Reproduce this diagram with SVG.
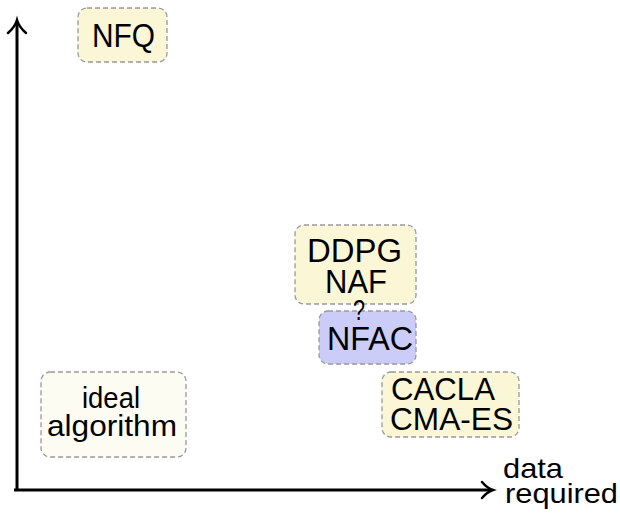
<svg xmlns="http://www.w3.org/2000/svg" width="620" height="516" viewBox="0 0 620 516">
<style>
.box{stroke:#999;stroke-width:1.3;stroke-dasharray:5,3}
.y{fill:#fbf7d6}
.b{fill:#ccccf9}
.w{fill:#fdfcf2}
text{font-family:"Liberation Sans",Arial,sans-serif;font-size:34px;fill:#000}
.ax{stroke:#000;stroke-width:3;fill:none}
.ah{stroke:#000;stroke-width:2.5;fill:none;stroke-linecap:round}
</style>
<g id="connectors">
<path class="ax" d="M17,490 V22"/>
<path class="ah" d="M8,33 Q15,27 17,20 Q19,27 26,33"/>
<path class="ax" d="M14,490 H490"/>
<path class="ah" d="M482,482 Q487,488 493,490 Q487,492 482,498"/>
</g>
<g id="nfq">
<rect class="box y" x="78" y="8" width="89" height="54" rx="9"/>
<text x="92" y="47" textLength="63" lengthAdjust="spacingAndGlyphs">NFQ</text>
</g>
<g id="ddpg">
<rect class="box y" x="295" y="225" width="121" height="79" rx="9"/>
<text x="307" y="262" textLength="95" lengthAdjust="spacingAndGlyphs">DDPG</text>
<text x="325" y="293" textLength="62" lengthAdjust="spacingAndGlyphs">NAF</text>
</g>
<g id="nfac">
<rect class="box b" x="319" y="311" width="97" height="53" rx="9"/>
<text x="327" y="350" textLength="86" lengthAdjust="spacingAndGlyphs">NFAC</text>
</g>
<g id="question">
<text x="353" y="320" style="font-size:30px" textLength="12" lengthAdjust="spacingAndGlyphs">?</text>
</g>
<g id="cacla">
<rect class="box y" x="382" y="372" width="137" height="65" rx="9"/>
<text x="391" y="400" style="font-size:32px" textLength="104" lengthAdjust="spacingAndGlyphs">CACLA</text>
<text x="390" y="430" style="font-size:32px" textLength="123" lengthAdjust="spacingAndGlyphs">CMA-ES</text>
</g>
<g id="ideal">
<rect class="box w" x="41" y="372" width="145" height="85" rx="9"/>
<text x="82" y="408" style="font-size:29px" textLength="58" lengthAdjust="spacingAndGlyphs">ideal</text>
<text x="47" y="436" style="font-size:29px" textLength="130" lengthAdjust="spacingAndGlyphs">algorithm</text>
</g>
<g id="xlabel">
<text x="503" y="478" style="font-size:28px" textLength="60" lengthAdjust="spacingAndGlyphs">data</text>
<text x="505" y="503" style="font-size:28px" textLength="113" lengthAdjust="spacingAndGlyphs">required</text>
</g>
</svg>
